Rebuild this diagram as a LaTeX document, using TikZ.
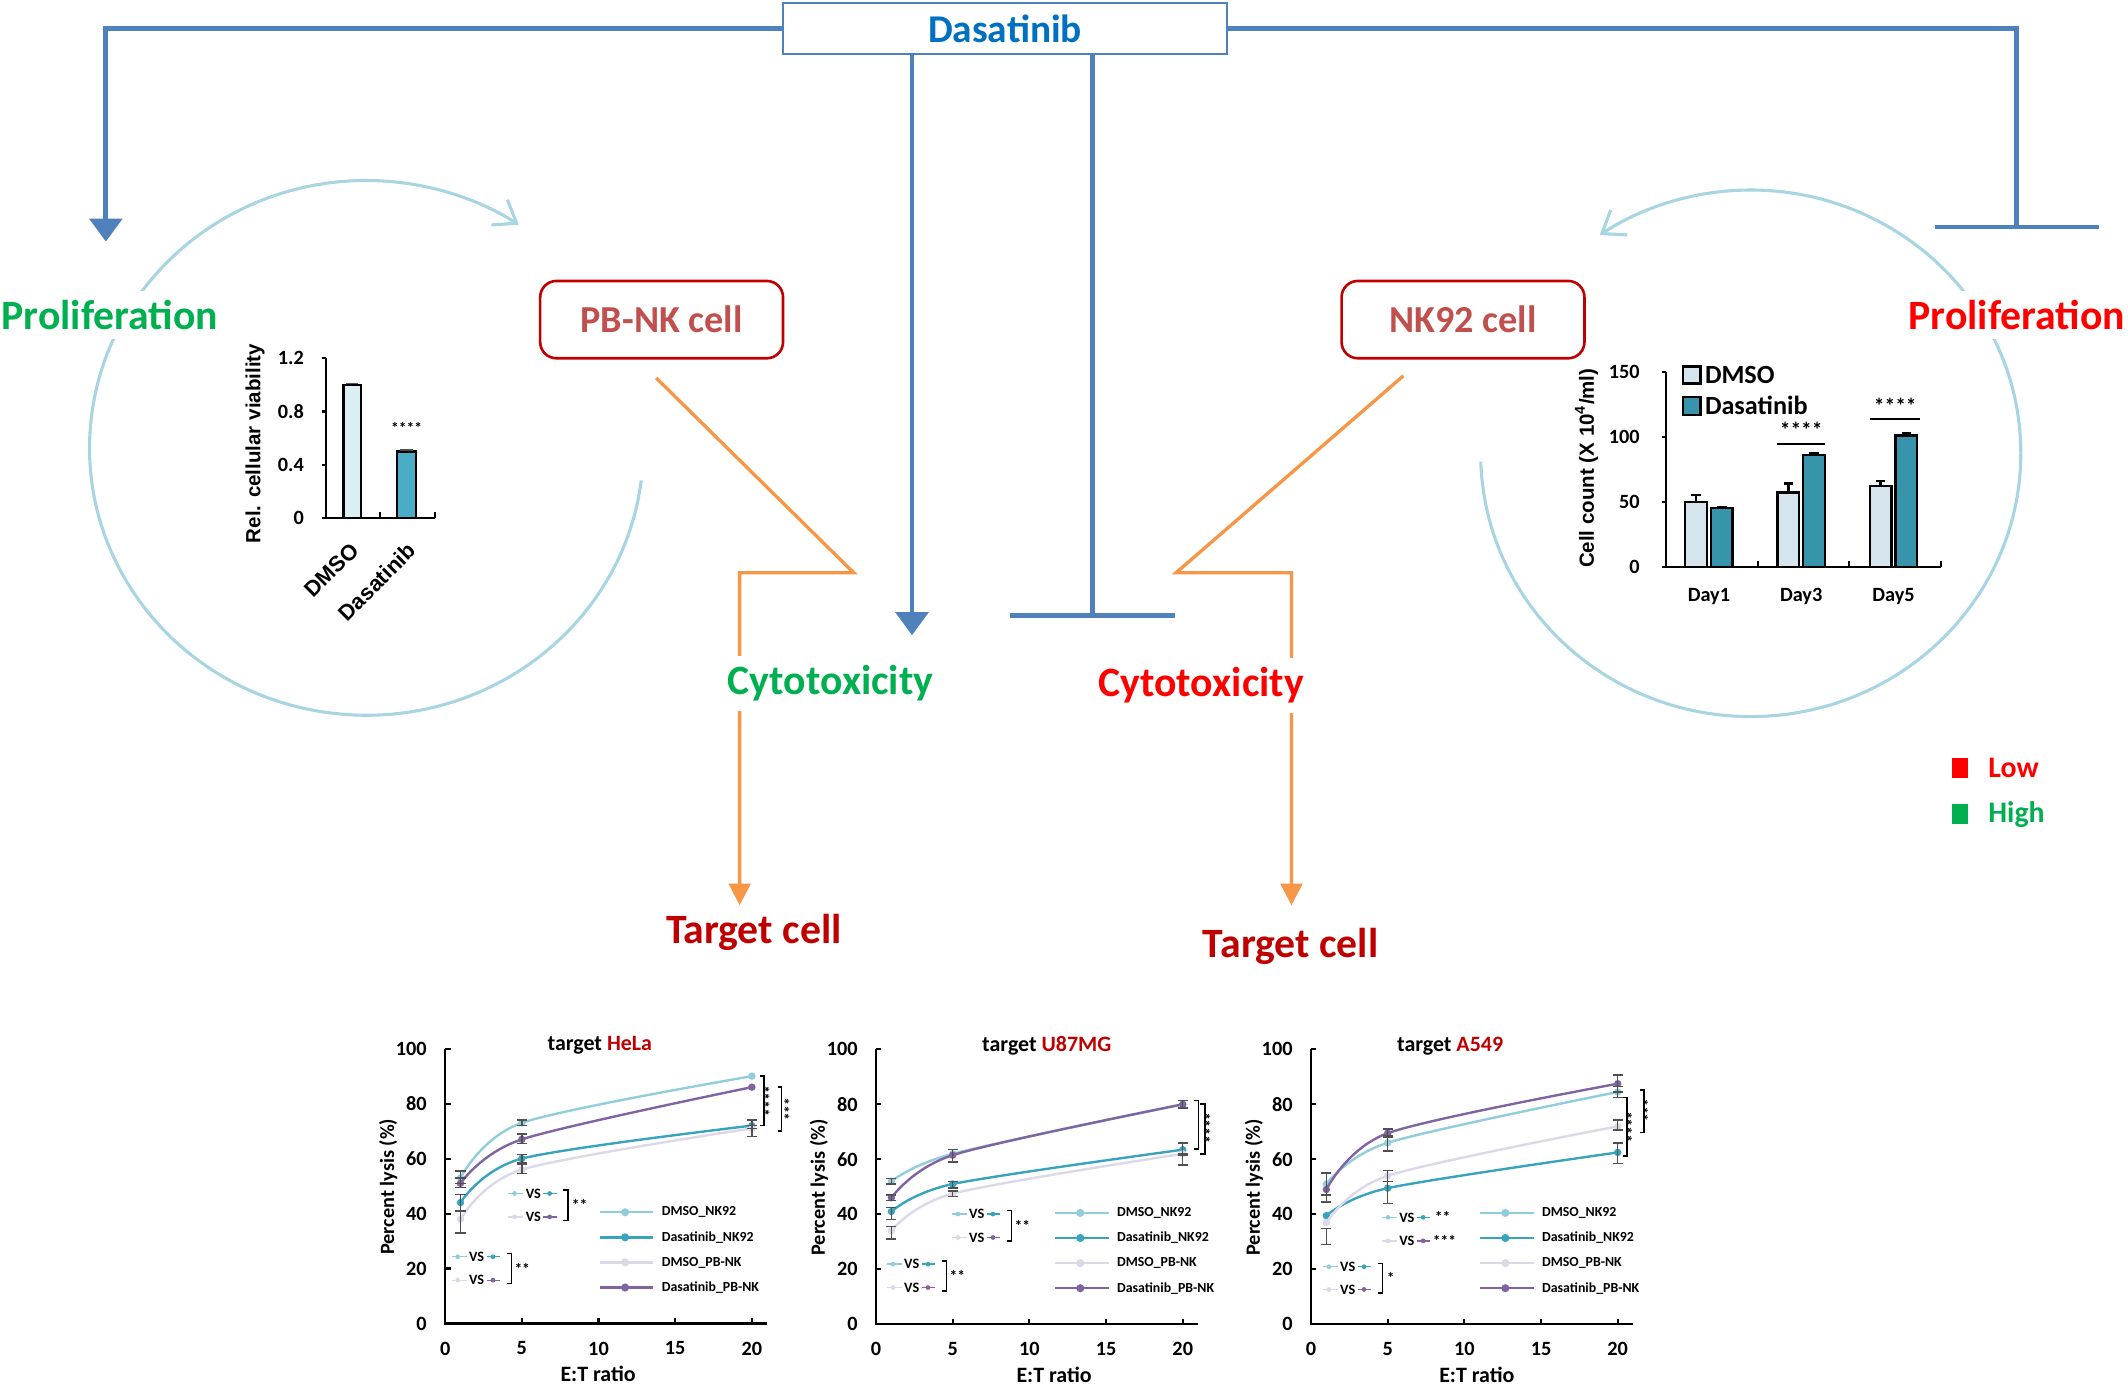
\documentclass[tikz,border=0pt]{standalone}
\usepackage{fontspec}
\setmainfont{Carlito}
\newfontfamily\arialfont{Liberation Sans}
\usetikzlibrary{arrows.meta}

\definecolor{dasablue}{HTML}{4F81BD}
\definecolor{dasatext}{HTML}{0070C0}
\definecolor{cellred}{HTML}{C00000}
\definecolor{celltext}{HTML}{C0504D}
\definecolor{tgtred}{HTML}{C00000}
\definecolor{higreen}{HTML}{00B050}
\definecolor{lored}{HTML}{FF0000}
\definecolor{flowcol}{HTML}{F79646}
\definecolor{cyclecol}{HTML}{A8D5E2}
\definecolor{dmnk}{HTML}{92CDDC}
\definecolor{dsnk}{HTML}{38A3BC}
\definecolor{dmpb}{HTML}{DCD8E8}
\definecolor{dspb}{HTML}{8064A2}
\definecolor{errgray}{HTML}{505050}
\definecolor{dmsobar}{HTML}{DAEEF3}
\definecolor{dasabar}{HTML}{4BACC6}
\definecolor{dmsobarb}{HTML}{D6E5ED}
\definecolor{dasabarb}{HTML}{3794AA}

\begin{document}
\begin{tikzpicture}[
    x=0.02cm, y=-0.02cm,
    every node/.style={inner sep=1pt},
    drugbox/.style={draw=dasablue, line width=0.9pt, fill=white,
                    minimum width=6.54cm, minimum height=0.76cm,
                    text=dasatext, font=\fontsize{16.5}{19}\selectfont\bfseries},
    cellbox/.style={draw=cellred, line width=1.1pt, rounded corners=0.24cm,
                    minimum width=3.58cm, minimum height=1.14cm,
                    text=celltext, font=\fontsize{16}{19}\selectfont\bfseries},
    biglabel/.style={fill=white, inner sep=4pt, font=\fontsize{17.5}{20}\selectfont\bfseries},
    tgtlabel/.style={text=tgtred, font=\fontsize{17.5}{20}\selectfont\bfseries},
    keylabel/.style={anchor=west, font=\fontsize{12.5}{14}\selectfont\bfseries},
    keybox/.style={minimum width=0.24cm, minimum height=0.3cm, inner sep=0pt},
    drugarrow/.style={draw=dasablue, line width=2pt, -{Triangle[width=0.48cm,length=0.34cm]}},
    inhibit/.style={draw=dasablue, line width=2pt, -{Bar[width=2.42cm]}},
    flow/.style={draw=flowcol, line width=1.4pt, -{Triangle[width=0.32cm,length=0.32cm]}},
    cyclearc/.style={draw=cyclecol, line width=1.3pt, -{Straight Barb[length=0.3cm,width=0.44cm]}},
    chartaxis/.style={line width=0.9pt},
    barline/.style={draw=black, line width=1pt},
    ticklab/.style={font=\fontsize{8.5}{10}\selectfont\bfseries},
    axislab/.style={font=\arialfont\bfseries\fontsize{8.6}{10}\selectfont},
    barlab/.style={font=\arialfont\bfseries\fontsize{9.2}{11}\selectfont},
    charttitle/.style={font=\fontsize{9.2}{11}\selectfont\bfseries},
    barkey/.style={anchor=west, font=\fontsize{11}{13}\selectfont\bfseries},
    curveline/.style={line width=1pt},
    mkdot/.style={circle, inner sep=0pt, minimum size=0.11cm},
    legdot/.style={circle, inner sep=0pt, minimum size=0.12cm},
    legtxt/.style={anchor=west, font=\fontsize{5.8}{7}\selectfont\bfseries},
    vsline/.style={line width=0.6pt},
    vsdot/.style={circle, inner sep=0pt, minimum size=0.07cm},
    vstxt/.style={font=\fontsize{6}{7}\selectfont\bfseries},
    startxt/.style={font=\fontsize{6.5}{7}\selectfont\bfseries},
    bigstar/.style={font=\fontsize{9}{10}\selectfont\bfseries},
    errbar/.style={draw=errgray, line width=0.6pt},
    sigbrk/.style={line width=0.6pt},
  ]
  \path[use as bounding box, fill=white] (0,0) rectangle (1568,1022);

  \node[drugbox] (dasa) at (740.5,21) {Dasatinib};
  \node[cellbox] (pbnk) at (487.5,235.5) {PB-NK cell};
  \node[cellbox] (nk92) at (1078,235.5) {NK92 cell};

  \coordinate (prolLin) at (78,178);
  \coordinate (prolRin) at (1486,169);
  \coordinate (cytoLin) at (672,468);
  \coordinate (cytoRin) at (805,455);
  \coordinate (pbturn) at (629,422);
  \coordinate (pbdrop) at (545,422);
  \coordinate (tgtLin) at (545,667);
  \coordinate (nkturn) at (866.6,422);
  \coordinate (nkdrop) at (951.6,422);
  \coordinate (tgtRin) at (951.6,667);

  % proliferation cycles
  \draw[cyclearc] (270,330) ++(7:204 and 197)
    arc[start angle=7, end angle=303.4, x radius=204, y radius=197];
  \draw[cyclearc] (1290,334) ++(178.2:199 and 194)
    arc[start angle=178.2, end angle=-124, x radius=199, y radius=194];

  \draw[drugarrow] (dasa.west) -| (prolLin);
  \draw[inhibit] (dasa.east) -| (prolRin);
  \draw[drugarrow] (dasa.south -| cytoLin) -- (cytoLin);
  \draw[inhibit] (dasa.south -| cytoRin) -- (cytoRin);
  \draw[flow] ([xshift=-0.08cm,yshift=-0.27cm]pbnk.south) -- (pbturn) -- (pbdrop) -- (tgtLin);
  \draw[flow] ([xshift=-0.88cm,yshift=-0.24cm]nk92.south) -- (nkturn) -- (nkdrop) -- (tgtRin);

  \node[biglabel, text=higreen] (prolL) at (81,232) {Proliferation};
  \node[biglabel, text=lored] (prolR) at (1486,232) {Proliferation};
  \node[biglabel, text=higreen] (cytoL) at (612,503.5) {Cytotoxicity};
  \node[biglabel, text=lored] (cytoR) at (885,505) {Cytotoxicity};
  \node[tgtlabel] (tgtL) at (555.5,687) {Target cell};
  \node[tgtlabel] (tgtR) at (951,697) {Target cell};

  \node[keybox, fill=lored] (lowkey) at (1444,566) {};
  \node[keylabel, text=lored] (lowtxt) at (1463,566) {Low};
  \node[keybox, fill=higreen] (highkey) at (1444,600) {};
  \node[keylabel, text=higreen] (hightxt) at (1463,600) {High};

  % viability bars
  \begin{scope}[shift={(240,381.8)}, yscale=-98.25]
    \draw[barline, fill=dmsobar] (13,0) rectangle (26,1);
    \draw[barline, fill=dasabar] (52.6,0) rectangle (66.6,0.5);
    \draw[errbar] (15,1.012) -- (24,1.012) (54.6,0.512) -- (64.6,0.512);
    \draw[chartaxis] (0,1.2) -- (0,0) -- (80.6,0);
    \draw[chartaxis] (40,0) -- (40,0.045) (80.6,0) -- (80.6,0.045);
    \foreach \v in {0,0.4,0.8,1.2} {
      \draw[chartaxis] (-3,\v) -- (0,\v);
      \node[ticklab, anchor=east] (via\v) at (-14,\v) {\v};
    }
    \node[startxt] (viastar) at (59.6,0.68) {****};
    \node[axislab, rotate=90] (vialab) at (-52,0.56) {Rel. cellular viability};
    \node[barlab, rotate=45, anchor=east] (viadm) at (23,-0.2) {DMSO};
    \node[barlab, rotate=45, anchor=east] (viads) at (65,-0.2) {Dasatinib};
  \end{scope}

  % cell count bars
  \begin{scope}[shift={(1227.7,417.6)}, yscale=-0.958]
    \foreach \g/\dm/\ds/\dme/\dse/\lab in {0/50/45/55/46/Day1, 1/57/86/64/87/Day3, 2/62/101/66/103/Day5} {
      \draw[barline] (22+\g*68,\dm) -- (22+\g*68,\dme) (18.5+\g*68,\dme) -- (25.5+\g*68,\dme);
      \draw[barline] (41+\g*68,\ds) -- (41+\g*68,\dse) (37.5+\g*68,\dse) -- (44.5+\g*68,\dse);
      \draw[barline, fill=dmsobarb] (14+\g*68,0) rectangle (30+\g*68,\dm);
      \draw[barline, fill=dasabarb] (33+\g*68,0) rectangle (49+\g*68,\ds);
      \node[ticklab] (day\g) at (31.5+\g*68,-23.1) {\lab};
    }
    \draw[chartaxis] (0,150) -- (0,0) -- (202.3,0);
    \draw[chartaxis] (67.5,0) -- (67.5,4.5) (135,0) -- (135,4.5) (202.3,0) -- (202.3,4.5);
    \foreach \v in {0,50,100,150} {
      \draw[chartaxis] (-3,\v) -- (0,\v);
      \node[ticklab, anchor=east] (cnt\v) at (-17.5,\v) {\v};
    }
    \draw[chartaxis] (82,94.6) -- (117,94.6) (150.3,113.4) -- (187.3,113.4);
    \node[bigstar] (star3) at (99.5,105.1) {****};
    \node[bigstar] (star5) at (168.8,123.8) {****};
    \draw[barline, fill=dmsobarb] (12.3,141) rectangle (25.3,154);
    \draw[barline, fill=dasabarb] (12.3,116.7) rectangle (25.3,130.8);
    \node[barkey] (keydm) at (26.5,147.5) {DMSO};
    \node[barkey] (keyds) at (26.5,123.8) {Dasatinib};
    \node[axislab, rotate=90] (cntlab) at (-58.7,75.8) {Cell count (X 10\textsuperscript{4}/ml)};
  \end{scope}

  % lysis charts: frames and legends
  \foreach \ox/\oy/\tx/\cell/\ex/\lx [count=\k] in {328/975.2/114/HeLa/112.7/114,
      645.5/975.7/125.8/U87MG/131.2/131.9, 966/975.7/102.5/A549/122.2/124.6} {
    \begin{scope}[shift={(\ox,\oy)}]
      \draw[chartaxis] (0,-202.5) -- (0,0) -- (237,0);
      \foreach \v in {0,20,...,100} {
        \draw[chartaxis] (0,-\v*2.025) -- (4,-\v*2.025);
        \node[ticklab, anchor=east] at (-11.5,-\v*2.025) {\v};
      }
      \foreach \v in {0,5,...,20} {
        \draw[chartaxis] (\v*11.3,0) -- (\v*11.3,-4);
        \node[ticklab] at (\v*11.3,18.4) {\v};
      }
      \node[charttitle] (etr\k) at (\ex,37) {E:T ratio};
      \node[ticklab, rotate=90] (lys\k) at (-42,-100.7) {Percent lysis (\%)};
      \node[charttitle] (ttl\k) at (\tx,-205) {target \textcolor{tgtred}{\cell}};
      \foreach \col/\lab [count=\i] in {dmnk/DMSO\_NK92, dsnk/Dasatinib\_NK92,
          dmpb/DMSO\_PB-NK, dspb/Dasatinib\_PB-NK} {
        \draw[curveline, \col] (\lx,-100.5+\i*18.5) -- (\lx+39.5,-100.5+\i*18.5);
        \node[legdot, fill=\col] at (\lx+18.6,-100.5+\i*18.5) {};
        \node[legtxt] at (\lx+43.6,-100.5+\i*18.5) {\lab};
      }
    \end{scope}
  }

  % HeLa
  \begin{scope}[shift={(328,975.2)}, xscale=11.3, yscale=-2.025]
    \foreach \col/\pa/\pb/\pc in {dmnk/53/73/90, dsnk/44/60/72, dmpb/38/56/71, dspb/51/67/86} {
      \draw[curveline, \col] plot[smooth] coordinates {(1,\pa) (5,\pb) (20,\pc)};
      \foreach \x/\y in {1/\pa, 5/\pb, 20/\pc} \node[mkdot, fill=\col] at (\x,\y) {};
    }
    \foreach \x/\lo/\hi in {1/51/55.5, 1/49.5/53, 1/41/47, 1/33/41, 5/72/74, 5/65.5/69,
        5/58.5/61.5, 5/54.5/58, 20/71/74, 20/68/72}
      \draw[errbar] (\x,\lo) -- (\x,\hi) (\x-0.33,\lo) -- (\x+0.33,\lo) (\x-0.33,\hi) -- (\x+0.33,\hi);
  \end{scope}

  % U87MG
  \begin{scope}[shift={(645.5,975.7)}, xscale=11.3, yscale=-2.025]
    \foreach \col/\pa/\pb/\pc in {dmnk/52/62/80, dsnk/41/51/63.5, dmpb/34/47.5/62, dspb/46/61.5/80} {
      \draw[curveline, \col] plot[smooth] coordinates {(1,\pa) (5,\pb) (20,\pc)};
      \foreach \x/\y in {1/\pa, 5/\pb, 20/\pc} \node[mkdot, fill=\col] at (\x,\y) {};
    }
    \foreach \x/\lo/\hi in {1/51/53, 1/45/47, 1/38/42.5, 1/31/35.5, 5/59/63.5, 5/49.5/52,
        5/46.5/48.5, 20/78.7/81.4, 20/61.5/66, 20/58/62}
      \draw[errbar] (\x,\lo) -- (\x,\hi) (\x-0.33,\lo) -- (\x+0.33,\lo) (\x-0.33,\hi) -- (\x+0.33,\hi);
  \end{scope}

  % A549
  \begin{scope}[shift={(966,975.7)}, xscale=11.3, yscale=-2.025]
    \foreach \col/\pa/\pb/\pc in {dmnk/51/66/84.5, dsnk/39.5/49.5/62.5, dmpb/37/54/72, dspb/49/69.5/87.5} {
      \draw[curveline, \col] plot[smooth] coordinates {(1,\pa) (5,\pb) (20,\pc)};
      \foreach \x/\y in {1/\pa, 5/\pb, 20/\pc} \node[mkdot, fill=\col] at (\x,\y) {};
    }
    \foreach \x/\lo/\hi in {1/47/55, 1/44.5/47, 1/29/34.8, 5/68/71, 5/63/68.5, 5/52/56,
        5/44/52, 20/84.5/90.7, 20/82.5/86.4, 20/70.6/74.3, 20/58.5/66}
      \draw[errbar] (\x,\lo) -- (\x,\hi) (\x-0.33,\lo) -- (\x+0.33,\lo) (\x-0.33,\hi) -- (\x+0.33,\hi);
  \end{scope}

  % comparison keys, brackets, stars
  \foreach \xo/\yo/\ca/\cb [count=\k] in {374.6/879.4/dmnk/dsnk, 374.6/896.6/dmpb/dspb,
      332.8/926/dmnk/dsnk, 332.8/943.3/dmpb/dspb,
      701.3/894.6/dmnk/dsnk, 701.3/911.8/dmpb/dspb,
      653.4/931.5/dmnk/dsnk, 653.4/948.7/dmpb/dspb,
      1018.2/897/dmnk/dsnk, 1018.2/914.3/dmpb/dspb,
      974.7/933.4/dmnk/dsnk, 974.7/950.1/dmpb/dspb} {
    \draw[vsline, \ca] (\xo,\yo) -- (\xo+11,\yo);
    \node[vsdot, fill=\ca] at (\xo+4.5,\yo) {};
    \node[vstxt] (vs\k) at (\xo+18.4,\yo) {VS};
    \draw[vsline, \cb] (\xo+25.8,\yo) -- (\xo+35.6,\yo);
    \node[vsdot, fill=\cb] at (\xo+30.4,\yo) {};
  }
  \foreach \xa/\xb/\ya/\yb in {415.1/418.6/876.9/899.1, 373.3/376.8/923.5/945.8,
      741.8/745.3/892.1/914.3, 693.9/697.4/929/951.2, 1015.2/1018.7/930.9/952.6,
      560/563/792.9/829.4, 573.5/576/801/833.5, 880.1/883/810.9/846.7,
      884.3/888/813.3/850.2, 1195.8/1198.7/808.6/851.8, 1208.5/1211.5/803.2/834.6}
    \draw[sigbrk] (\xa,\ya) -| (\xb,\yb) -- (\xa,\yb);
  \foreach \x/\y/\s [count=\k] in {427/888/**, 384.8/934.7/**, 753.3/903.2/**, 705.4/940.1/**,
      1024.8/941.8/*, 1062.9/897/**, 1064.4/914.3/***}
    \node[startxt] (sig\k) at (\x,\y) {\s};
  \foreach \x/\y/\s [count=\k] in {567.5/811.2/****, 582/817.3/***, 892.2/831.1/****,
      1202.9/830.3/****, 1214.7/818/***}
    \node[startxt, rotate=90] (sigr\k) at (\x,\y) {\s};
\end{tikzpicture}
\end{document}
